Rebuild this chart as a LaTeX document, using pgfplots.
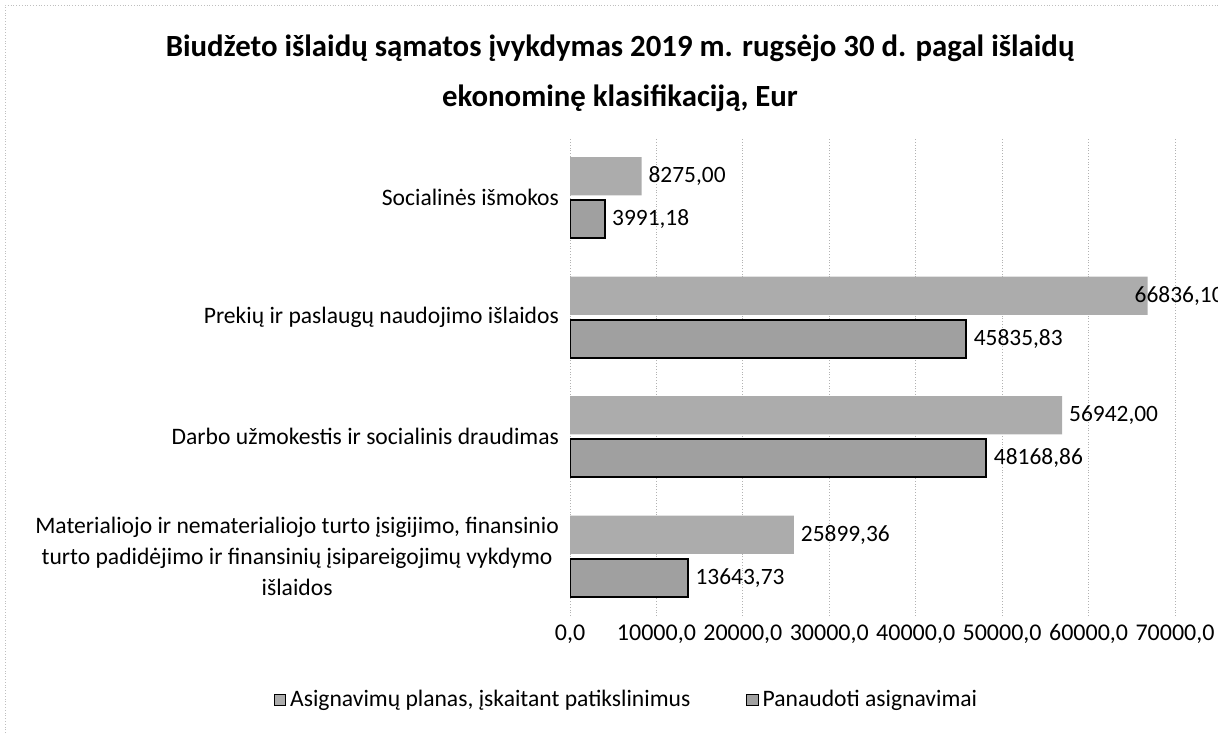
\documentclass[border=0pt]{standalone}
\usepackage{pgfplots}
\usepackage{pgfplotstable}
\pgfplotsset{compat=1.18}
\usepackage{fontspec}
\setmainfont{Carlito}
\definecolor{planfill}{RGB}{172,172,172}
\definecolor{usedfill}{RGB}{160,160,160}
\pgfplotstableread{
x y dx
25899.36 0 0
56942 1 0
66836.10 2 -10
8275 3 0
}\plan
\pgfplotstableread{
x y
13643.73 0
48168.86 1
45835.83 2
3991.18 3
}\used
\begin{document}
\begin{tikzpicture}
\path[use as bounding box] (0,0) rectangle (609pt,366.5pt);
\draw[gray!50, densely dotted] (2.5pt,0) -- (2.5pt,364pt) -- (609pt,364pt);
\node[font=\fontsize{15.4}{25}\selectfont\bfseries, align=center] at (310pt,330pt)
  {Biudžeto išlaidų sąmatos įvykdymas 2019 m. rugsėjo 30 d. pagal išlaidų\\ekonominę klasifikaciją, Eur};
\begin{axis}[
  at={(285pt,58.5pt)}, anchor=south west,
  scale only axis, width=302.5pt, height=239pt,
  xbar, bar width=0.32,
  xmin=0, xmax=70000, ymin=-0.5, ymax=3.5,
  xtick={0,10000,...,70000},
  ytick={0,1,2,3},
  yticklabels={{Materialiojo ir nematerialiojo turto įsigijimo, finansinio\\turto padidėjimo ir finansinių įsipareigojimų vykdymo\\išlaidos},
    {Darbo užmokestis ir socialinis draudimas},
    {Prekių ir paslaugų naudojimo išlaidos},
    {Socialinės išmokos}},
  yticklabel style={align=center, font=\fontsize{11.8}{15.5}\selectfont, xshift=-2pt},
  xticklabel style={font=\fontsize{12}{14}\selectfont, text height=8.5pt, text depth=2.5pt},
  scaled x ticks=false,
  xticklabel={\pgfmathprintnumber[fixed,fixed zerofill,precision=1,use comma,1000 sep={},assume math mode=true]{\tick}},
  axis line style={draw=none},
  major tick length=0pt,
  xmajorgrids, grid style={gray!60, densely dotted},
  nodes near coords,
  nodes near coords style={font=\fontsize{11.7}{13}\selectfont,
    /pgf/number format/fixed, /pgf/number format/fixed zerofill,
    /pgf/number format/precision=2, /pgf/number format/use comma,
    /pgf/number format/1000 sep={}, /pgf/number format/assume math mode=true},
  legend style={at={(0.095,-0.176)}, anchor=center, draw=none, legend columns=2,
    font=\fontsize{11.8}{13}\selectfont, /tikz/every even column/.append style={column sep=26pt}},
  legend image code/.code={\draw[#1, line width=0.5pt] (0cm,-0.1cm) rectangle (0.2cm,0.1cm);},
]
\addplot[fill=planfill, draw=none, bar shift=0.18,
  visualization depends on={\thisrow{dx} \as \dx},
  nodes near coords style={/tikz/xshift=\dx pt}] table[x=x,y=y] {\plan};
\addlegendentry{Asignavimų planas, įskaitant patikslinimus}
\addplot[fill=usedfill, draw=black, line width=1pt, bar shift=-0.18] table[x=x,y=y] {\used};
\addlegendentry{Panaudoti asignavimai}
\end{axis}
\end{tikzpicture}
\end{document}
